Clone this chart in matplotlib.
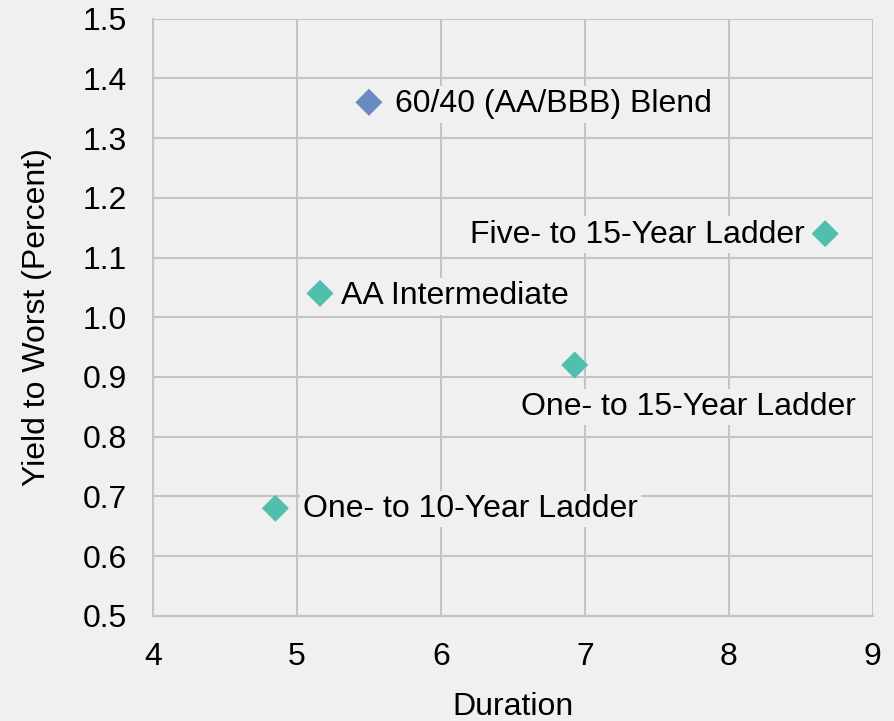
import matplotlib
matplotlib.use("Agg")
import matplotlib.pyplot as plt

_BG = "#f0f0f0"
_GRID = "#c4c4c4"
_BLUE = "#6a8bbf"
_TEAL = "#50bfad"

plt.rcParams.update({
    "font.family": ["Liberation Sans", "DejaVu Sans"],
    "font.size": 23,
    "figure.facecolor": _BG,
    "axes.facecolor": _BG,
})

names = ["60/40 (AA/BBB) Blend", "Five- to 15-Year Ladder", "AA Intermediate",
         "One- to 15-Year Ladder", "One- to 10-Year Ladder"]
duration = [5.50, 8.67, 5.16, 6.93, 4.85]
ytw = [1.36, 1.14, 1.04, 0.92, 0.68]
colors = [_BLUE, _TEAL, _TEAL, _TEAL, _TEAL]

# label placement: (dx, dy) in pixels, ha, va
label_pos = [
    ((26, -2), "left", "center"),
    ((-20, -1), "right", "center"),
    ((21, -3), "left", "center"),
    ((-54, -27), "left", "top"),
    ((28, -1), "left", "center"),
]

fig = plt.figure(figsize=(8.95, 7.21), dpi=100)
ax = fig.add_axes([0.171, 0.146, 0.804, 0.828])

ax.scatter(duration, ytw, marker="D", s=190, c=colors, edgecolors="none", zorder=3)

for name, x, y, ((dx, dy), ha, va) in zip(names, duration, ytw, label_pos):
    ax.annotate(name, (x, y), xytext=(dx, dy), textcoords="offset pixels",
                ha=ha, va=va, color="black", zorder=4,
                bbox=dict(boxstyle="square,pad=0.1", facecolor=_BG, edgecolor="none"))

ax.set_xlim(4, 9)
ax.set_ylim(0.5, 1.5)
ax.set_xticks(range(4, 10))
ax.set_yticks([0.5 + 0.1 * i for i in range(11)])
ax.set_yticklabels([f"{0.5 + 0.1 * i:.1f}" for i in range(11)])
ax.grid(True, color=_GRID, linewidth=1.5, zorder=0)
ax.set_axisbelow(True)
ax.tick_params(length=0, pad=19)
for side, sp in ax.spines.items():
    sp.set_color(_GRID)
    sp.set_linewidth(1.5)
    if side in ("top", "right"):
        sp.set_visible(False)

ax.set_xlabel("Duration", labelpad=14)
ax.set_ylabel("Yield to Worst (Percent)", labelpad=22)

fig.savefig("out.png", dpi=100, facecolor=_BG)
